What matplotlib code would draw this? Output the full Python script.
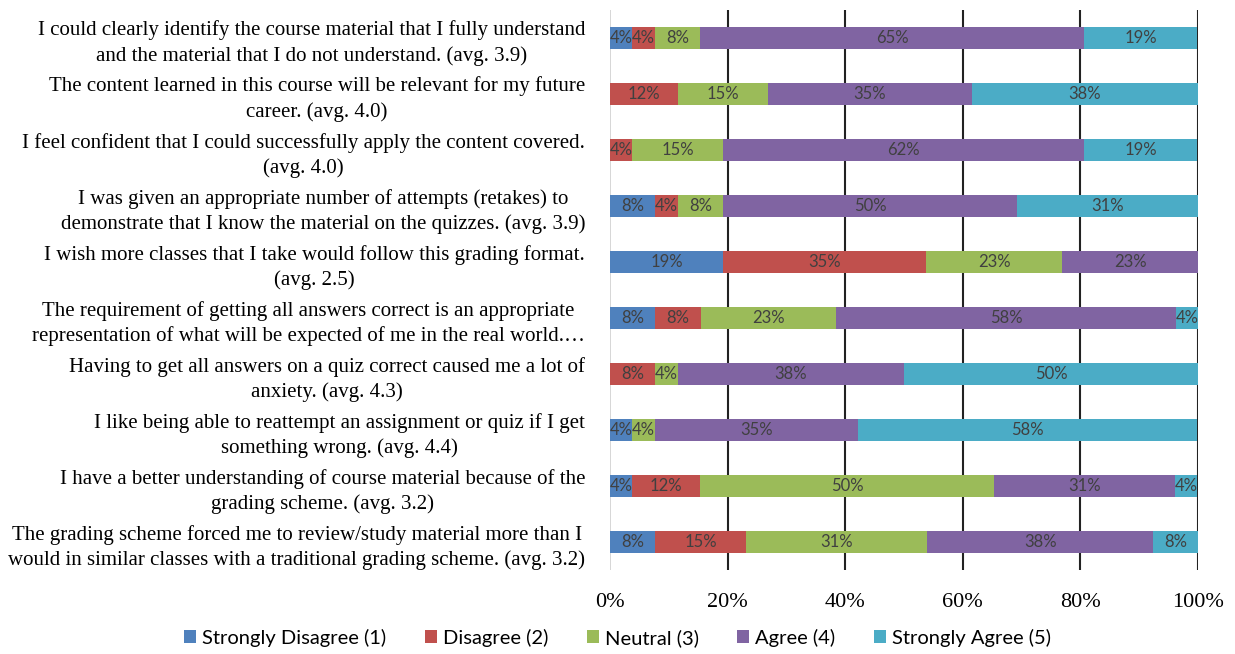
import numpy as np
import matplotlib.pyplot as plt

# survey statements, top to bottom
questions = [
    "I could clearly identify the course material that I fully understand\nand the material that I do not understand. (avg. 3.9)",
    "The content learned in this course will be relevant for my future\ncareer. (avg. 4.0)",
    "I feel confident that I could successfully apply the content covered.\n(avg. 4.0)",
    "I was given an appropriate number of attempts (retakes) to\ndemonstrate that I know the material on the quizzes. (avg. 3.9)",
    "I wish more classes that I take would follow this grading format.\n(avg. 2.5)",
    "The requirement of getting all answers correct is an appropriate\nrepresentation of what will be expected of me in the real world.\u2026",
    "Having to get all answers on a quiz correct caused me a lot of\nanxiety. (avg. 4.3)",
    "I like being able to reattempt an assignment or quiz if I get\nsomething wrong. (avg. 4.4)",
    "I have a better understanding of course material because of the\ngrading scheme. (avg. 3.2)",
    "The grading scheme forced me to review/study material more than I\nwould in similar classes with a traditional grading scheme. (avg. 3.2)",
]

categories = ["Strongly Disagree (1)", "Disagree (2)", "Neutral (3)", "Agree (4)", "Strongly Agree (5)"]
colors = ["#4F81BD", "#C0504D", "#9BBB59", "#8064A2", "#4BACC6"]

# percent of responses per statement (same order as questions)
strongly_disagree = [3.8, 0.0, 0.0, 7.7, 19.2, 7.7, 0.0, 3.8, 3.8, 7.7]
disagree = [3.8, 11.5, 3.8, 3.8, 34.6, 7.7, 7.7, 0.0, 11.5, 15.4]
neutral = [7.7, 15.4, 15.4, 7.7, 23.1, 23.1, 3.8, 3.8, 50.0, 30.8]
agree = [65.4, 34.6, 61.5, 50.0, 23.1, 57.7, 38.5, 34.6, 30.8, 38.5]
strongly_agree = [19.2, 38.5, 19.2, 30.8, 0.0, 3.8, 50.0, 57.7, 3.8, 7.7]

series = [strongly_disagree, disagree, neutral, agree, strongly_agree]

fig = plt.figure(figsize=(12.35, 6.54), dpi=100)
ax = fig.add_axes([0.494, 0.128, 0.476, 0.857])

y = np.arange(len(questions))
left = np.zeros(len(questions))

# vertical gridlines behind bars
for gx in [20, 40, 60, 80, 100]:
    ax.axvline(gx, color="#222222", lw=1.5, zorder=0)
ax.axvline(0, color="#d0d0d0", lw=1.2, zorder=0)

for vals, col, name in zip(series, colors, categories):
    vals = np.array(vals)
    ax.barh(y, vals, left=left, height=0.4, color=col, label=name, zorder=2)
    for v, l, yy in zip(vals, left, y):
        if v > 0:
            ax.text(l + v / 2, yy, f"{v:.0f}%", ha="center", va="center",
                    fontsize=12, color="#404040", family="Lato", zorder=3)
    left += vals

ax.set_xlim(0, 100)
ax.set_ylim(len(questions) - 0.5, -0.5)
ax.set_xticks([0, 20, 40, 60, 80, 100])
ax.set_xticklabels(["0%", "20%", "40%", "60%", "80%", "100%"],
                   family="Liberation Serif", fontsize=16)
ax.set_yticks(y)
ax.set_yticklabels(questions, family="Liberation Serif", fontsize=15,
                   multialignment="center", linespacing=1.4)
ax.tick_params(axis="y", length=0, pad=18)
ax.tick_params(axis="x", length=0, pad=16)
for s in ax.spines.values():
    s.set_visible(False)

fig.legend(loc="lower center", bbox_to_anchor=(0.5, -0.017), ncol=5, frameon=False,
           prop={"family": "Lato", "size": 14.5}, handlelength=0.6, handleheight=0.6,
           handletextpad=0.3, columnspacing=1.9)

fig.savefig("out.png", dpi=100)
